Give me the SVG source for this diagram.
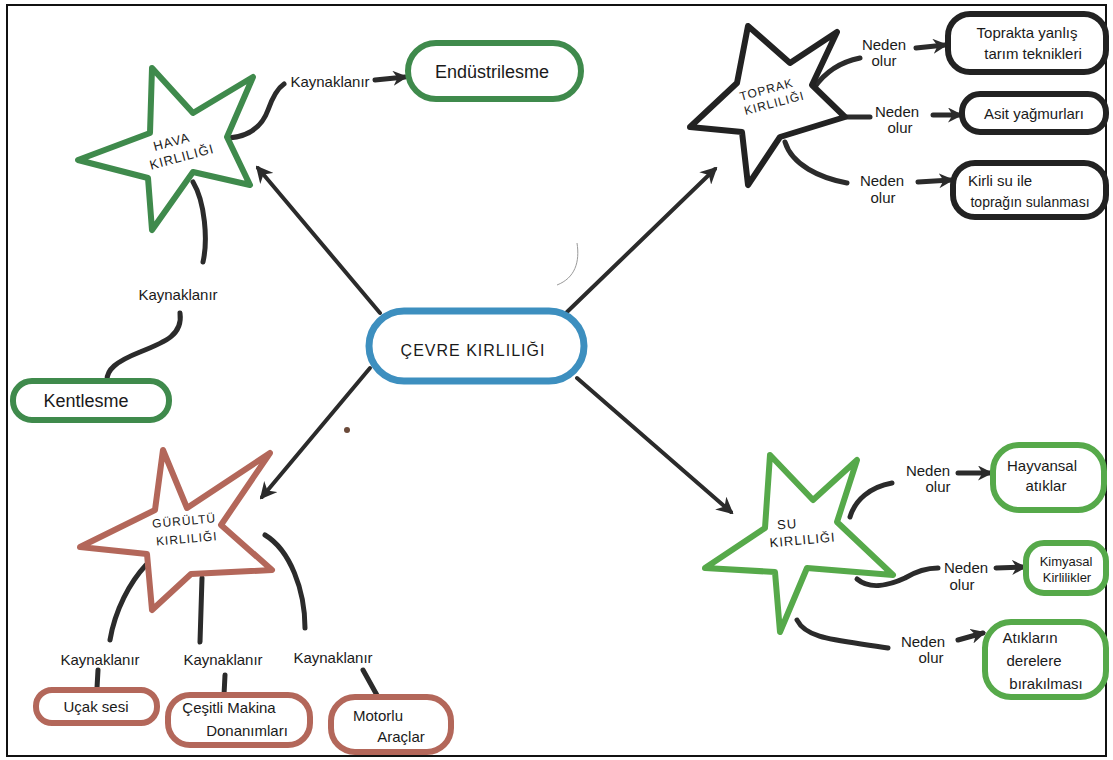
<svg xmlns="http://www.w3.org/2000/svg" width="1113" height="760" viewBox="0 0 1113 760">
  <defs>
    <marker id="head" viewBox="0 0 10 10" refX="8" refY="5" markerWidth="17" markerHeight="17" markerUnits="userSpaceOnUse" orient="auto">
      <path d="M0,0 L10,5 L0,10 L3,5 z" fill="#2b2b2b"/>
    </marker>
    <marker id="headS" viewBox="0 0 10 10" refX="8" refY="5" markerWidth="15" markerHeight="15" markerUnits="userSpaceOnUse" orient="auto">
      <path d="M0,0 L10,5 L0,10 L3,5 z" fill="#2b2b2b"/>
    </marker>
  </defs>
  <style>
    text { font-family: "Liberation Sans", "DejaVu Sans", sans-serif; fill: #1a1a1a; text-anchor: middle; }
    .lbl { font-size: 15px; }
    .box { font-size: 15px; }
    .cap { font-size: 13px; letter-spacing: 1px; }
    .green { fill: #ffffff; stroke: #3f8a4c; stroke-width: 6; stroke-linejoin: round; }
    .lime { fill: #ffffff; stroke: #56a94a; stroke-width: 6; stroke-linejoin: round; }
    .black { fill: #ffffff; stroke: #222222; stroke-width: 6; stroke-linejoin: round; }
    .red { fill: #ffffff; stroke: #b3675a; stroke-width: 6; stroke-linejoin: round; }
    .blue { fill: #ffffff; stroke: #3d8fbf; stroke-width: 7; }
    .con { fill: none; stroke: #2b2b2b; stroke-width: 5; stroke-linecap: round; }
    .arr { fill: none; stroke: #2b2b2b; stroke-width: 4; stroke-linecap: round; marker-end: url(#head); }
    .sarr { fill: none; stroke: #2b2b2b; stroke-width: 5; stroke-linecap: round; marker-end: url(#headS); }
  </style>

  <rect width="1113" height="760" fill="#ffffff"/>
  <rect x="7" y="5" width="1099" height="751" fill="none" stroke="#111111" stroke-width="2"/>

  <!-- pencil marks on the sheet -->
  <path d="M577,243 C580,262 575,278 557,285" fill="none" stroke="#9a9a9a" stroke-width="1"/>
  <circle cx="347" cy="430" r="3" fill="#6b4a3a"/>

  <!-- connectors -->
  <g id="connectors">
    <!-- centre to the four kinds -->
    <path class="arr" d="M380,313 L258,168"/>
    <path class="arr" d="M567,312 L715,169"/>
    <path class="arr" d="M370,368 L262,497"/>
    <path class="arr" d="M577,378 L731,512"/>

    <!-- air -->
    <path class="con" d="M229,138 C252,136 263,124 268,110 C273,96 278,88 284,84"/>
    <path class="sarr" d="M375,80 L405,77"/>
    <path class="con" d="M193,182 C205,202 208,240 203,262"/>
    <path class="con" d="M180,313 C183,335 165,342 140,352 C115,362 107,370 107,380"/>

    <!-- soil -->
    <path class="con" d="M814,88 C825,72 840,62 860,58"/>
    <path class="sarr" d="M916,48 L945,45"/>
    <path class="con" d="M847,117 L870,117"/>
    <path class="sarr" d="M933,115 L960,115"/>
    <path class="con" d="M785,142 C792,165 820,178 847,183"/>
    <path class="sarr" d="M918,182 L951,180"/>

    <!-- water -->
    <path class="con" d="M850,517 C855,500 870,487 892,483"/>
    <path class="sarr" d="M958,473 L990,473"/>
    <path class="con" d="M857,579 C870,590 890,585 905,578 C915,572 925,568 938,568"/>
    <path class="sarr" d="M996,568 L1024,567"/>
    <path class="con" d="M797,620 C807,640 840,640 888,648"/>
    <path class="sarr" d="M958,640 L983,633"/>

    <!-- noise -->
    <path class="con" d="M146,565 C130,582 115,610 110,640"/>
    <path class="con" d="M202,578 L200,642"/>
    <path class="con" d="M265,535 C290,550 305,590 305,628"/>
    <path class="con" d="M98,670 L97,688"/>
    <path class="con" d="M225,675 L224,695"/>
    <path class="con" d="M363,670 L378,697"/>
  </g>

  <!-- centre -->
  <g id="cevre">
    <rect class="blue" x="369" y="311" width="215" height="70" rx="35"/>
    <text x="473" y="356" style="font-size:16px; letter-spacing:1px">ÇEVRE KIRLILIĞI</text>
  </g>

  <!-- air pollution -->
  <g id="hava">
    <polygon class="green" points="152,68 193,113 253,77 227,137 250,185 193,172 152,230 148,178 78,160 150,133"/>
    <g transform="rotate(-15 178 150)">
      <text class="cap" x="174" y="145">HAVA</text>
      <text class="cap" x="180" y="162">KIRLILIĞI</text>
    </g>
  </g>
  <g id="hava-kaynak1">
    <text class="lbl" x="330" y="87">Kaynaklanır</text>
  </g>
  <g id="endustri">
    <rect class="green" x="408" y="43" width="173" height="56" rx="28"/>
    <text x="492" y="78" style="font-size:18px">Endüstrilesme</text>
  </g>
  <g id="hava-kaynak2">
    <text class="lbl" x="178" y="300">Kaynaklanır</text>
  </g>
  <g id="kentlesme">
    <rect class="green" x="13" y="381" width="156" height="39" rx="19"/>
    <text x="86" y="407" style="font-size:18px">Kentlesme</text>
  </g>

  <!-- soil pollution -->
  <g id="toprak">
    <polygon class="black" points="748,26 790,63 837,32 812,85 845,117 780,137 748,185 742,132 690,127 737,83"/>
    <g transform="rotate(-15 770 95)">
      <text class="cap" x="768" y="93" style="font-size:12px">TOPRAK</text>
      <text class="cap" x="772" y="108" style="font-size:12px">KIRLILIĞI</text>
    </g>
  </g>
  <g id="toprak-n1">
    <text class="lbl" x="884" y="50">Neden</text>
    <text class="lbl" x="884" y="66">olur</text>
  </g>
  <g id="yanlis-tarim">
    <rect class="black" x="948" y="14" width="158" height="58" rx="22"/>
    <text class="box" x="1027" y="38">Toprakta yanlış</text>
    <text class="box" x="1033" y="59">tarım teknikleri</text>
  </g>
  <g id="toprak-n2">
    <text class="lbl" x="897" y="117">Neden</text>
    <text class="lbl" x="900" y="133">olur</text>
  </g>
  <g id="asit">
    <rect class="black" x="962" y="94" width="144" height="38" rx="18"/>
    <text class="box" x="1034" y="119">Asit yağmurları</text>
  </g>
  <g id="toprak-n3">
    <text class="lbl" x="882" y="186">Neden</text>
    <text class="lbl" x="883" y="203">olur</text>
  </g>
  <g id="kirli-su">
    <rect class="black" x="953" y="163" width="153" height="54" rx="22"/>
    <text class="box" x="1000" y="186">Kirli su ile</text>
    <text class="box" x="1030" y="207" style="font-size:14px">toprağın sulanması</text>
  </g>

  <!-- water pollution -->
  <g id="su">
    <polygon class="lime" points="770,455 813,500 857,460 837,522 893,575 807,568 780,632 775,572 705,568 765,528"/>
    <g transform="rotate(-5 795 533)">
      <text class="cap" x="788" y="528">SU</text>
      <text class="cap" x="802" y="545">KIRLILIĞI</text>
    </g>
  </g>
  <g id="su-n1">
    <text class="lbl" x="928" y="476">Neden</text>
    <text class="lbl" x="938" y="492">olur</text>
  </g>
  <g id="hayvansal">
    <rect class="lime" x="993" y="445" width="111" height="65" rx="26"/>
    <text class="box" x="1042" y="471">Hayvansal</text>
    <text class="box" x="1046" y="491">atıklar</text>
  </g>
  <g id="su-n2">
    <text class="lbl" x="966" y="573">Neden</text>
    <text class="lbl" x="962" y="590">olur</text>
  </g>
  <g id="kimyasal">
    <rect class="lime" x="1026" y="543" width="80" height="50" rx="18"/>
    <text x="1066" y="566" style="font-size:13px">Kimyasal</text>
    <text x="1067" y="582" style="font-size:13px">Kirlilikler</text>
  </g>
  <g id="su-n3">
    <text class="lbl" x="923" y="647">Neden</text>
    <text class="lbl" x="931" y="663">olur</text>
  </g>
  <g id="atiklar">
    <rect class="lime" x="985" y="622" width="121" height="75" rx="26"/>
    <text class="box" x="1030" y="643">Atıkların</text>
    <text class="box" x="1034" y="666">derelere</text>
    <text class="box" x="1046" y="689">bırakılması</text>
  </g>

  <!-- noise pollution -->
  <g id="gurultu">
    <polygon class="red" points="163,450 187,508 270,453 221,525 272,570 191,574 152,610 147,554 80,547 155,510"/>
    <g transform="rotate(-5 185 530)">
      <text class="cap" x="185" y="525" style="font-size:12px">GÜRÜLTÜ</text>
      <text class="cap" x="186" y="543" style="font-size:12px">KIRLILIĞI</text>
    </g>
  </g>
  <g id="gurultu-k1">
    <text class="lbl" x="100" y="665">Kaynaklanır</text>
  </g>
  <g id="ucak">
    <rect class="red" x="36" y="690" width="121" height="33" rx="16"/>
    <text class="box" x="96" y="712">Uçak sesi</text>
  </g>
  <g id="gurultu-k2">
    <text class="lbl" x="223" y="665">Kaynaklanır</text>
  </g>
  <g id="makina">
    <rect class="red" x="168" y="695" width="142" height="50" rx="22"/>
    <text class="box" x="229" y="713">Çeşitli Makina</text>
    <text class="box" x="247" y="736">Donanımları</text>
  </g>
  <g id="gurultu-k3">
    <text class="lbl" x="333" y="663">Kaynaklanır</text>
  </g>
  <g id="motorlu">
    <rect class="red" x="331" y="697" width="120" height="55" rx="24"/>
    <text class="box" x="378" y="721">Motorlu</text>
    <text class="box" x="401" y="742">Araçlar</text>
  </g>
</svg>
